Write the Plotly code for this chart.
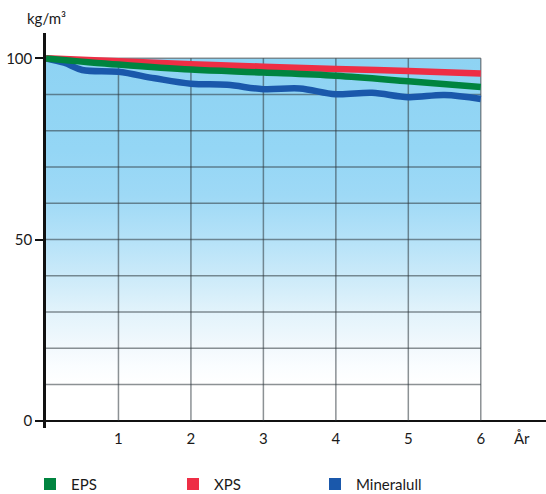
import base64
import plotly.graph_objects as go

# ---- data ----
years_lin = [0, 1, 2, 3, 4, 5, 6]
eps_vals = [100, 98.3, 96.9, 96.1, 95.2, 93.7, 92.1]
xps_vals = [100, 99.2, 98.4, 97.7, 97.1, 96.5, 95.8]
years_mw = [0, 0.25, 0.5, 1, 1.5, 2, 2.5, 3, 3.5, 4, 4.5, 5, 5.5, 6]
mw_vals = [100, 98.8, 96.8, 96.3, 94.5, 93.0, 92.7, 91.5, 91.7, 90.1, 90.5, 89.3, 89.9, 88.8]
series_names = ["EPS", "XPS", "Mineralull"]
x_ticks = [1, 2, 3, 4, 5, 6]
y_ticks = [0, 50, 100]

C_EPS = "#00843f"
C_XPS = "#ee2e45"
C_MW = "#1a58ab"
colors = [C_EPS, C_XPS, C_MW]
FONT = "Lato"

fig = go.Figure()

# gradient background (decoration) as an SVG image
stops = [(100, "#8ed3f3"), (75, "#94d6f5"), (62, "#9ed9f6"), (50, "#b5e2f8"), (40, "#cbeaf9"),
         (30, "#e2f3fb"), (20, "#f3f9fd"), (15, "#fafdff"), (10, "#ffffff"), (0, "#ffffff")]
stop_xml = "".join('<stop offset="%.3f" stop-color="%s"/>' % ((100 - v) / 100, c) for v, c in stops)
svg = ('<svg xmlns="http://www.w3.org/2000/svg" width="100" height="100" preserveAspectRatio="none">'
       '<defs><linearGradient id="g" x1="0" y1="0" x2="0" y2="1">' + stop_xml + '</linearGradient></defs>'
       '<rect width="100" height="100" fill="url(#g)"/></svg>')
img_src = "data:image/svg+xml;base64," + base64.b64encode(svg.encode()).decode()

shapes = []
grid_c = "rgba(45,55,60,0.55)"
for v in range(10, 101, 10):
    shapes.append(dict(type="line", xref="x", yref="y", x0=0, x1=6, y0=v, y1=v,
                       line=dict(color=grid_c, width=1.5), layer="between"))
for v in x_ticks:
    shapes.append(dict(type="line", xref="x", yref="y", x0=v, x1=v, y0=0, y1=100,
                       line=dict(color=grid_c, width=1.5), layer="between"))

fig.add_trace(go.Scatter(x=years_mw, y=mw_vals, mode="lines", line=dict(color=C_MW, width=6.5, shape="spline", smoothing=1.0),
                         name="Mineralull", showlegend=False, cliponaxis=False))
fig.add_trace(go.Scatter(x=years_lin, y=xps_vals, mode="lines", line=dict(color=C_XPS, width=6.5, shape="spline"),
                         name="XPS", showlegend=False, cliponaxis=False))
fig.add_trace(go.Scatter(x=years_lin, y=eps_vals, mode="lines", line=dict(color=C_EPS, width=6.5, shape="spline"),
                         name="EPS", showlegend=False, cliponaxis=False))

# manual legend (pixel positions converted to paper coords)
PL, PW, PB, PH = 46, 500, 428, 395
def px(x):
    return (x - PL) / PW
def py(y):
    return (PB - y) / PH

annotations = [
    dict(text="kg/m³", xref="paper", yref="paper", x=px(25), y=py(18), xanchor="left", yanchor="middle",
         showarrow=False, font=dict(size=15)),
    dict(text="År", xref="x", yref="paper", x=6.57, y=py(438), xanchor="center", yanchor="middle",
         showarrow=False, font=dict(size=15)),
]
LEG_Y = 484
leg_x = [44, 187, 329]
for name, c, lx in zip(series_names, colors, leg_x):
    shapes.append(dict(type="rect", xref="paper", yref="paper", x0=px(lx), x1=px(lx + 12),
                       y0=py(LEG_Y + 6), y1=py(LEG_Y - 6), fillcolor=c, line=dict(width=0), layer="above"))
    annotations.append(dict(text=name, xref="paper", yref="paper", x=px(lx + 26), y=py(LEG_Y),
                            xanchor="left", yanchor="middle", showarrow=False, borderpad=0,
                            font=dict(size=15)))

fig.update_layout(
    width=546, height=494,
    margin=dict(l=46, r=0, t=33, b=66, autoexpand=False),
    plot_bgcolor="white", paper_bgcolor="white",
    font=dict(family=FONT, size=15, color="#1a1a1a"),
    shapes=shapes,
    images=[dict(source=img_src, xref="x", yref="y", x=0, y=100, sizex=6, sizey=100,
                 sizing="stretch", xanchor="left", yanchor="top", layer="below")],
    showlegend=False,
    xaxis=dict(range=[0, 6.9], tickvals=x_ticks, ticktext=[str(v) for v in x_ticks], automargin=False,
               showgrid=False, zeroline=False, showline=False, ticks="", ticklabelstandoff=0),
    yaxis=dict(range=[-2.0, 107], tickvals=y_ticks, showgrid=False, automargin=False,
               zeroline=True, zerolinecolor="#111", zerolinewidth=2,
               showline=True, linecolor="#111", linewidth=2.5,
               ticks="outside", ticklen=8, tickwidth=2, tickcolor="#111"),
    annotations=annotations,
)

fig.write_html("out.html", config={"displayModeBar": False},
               post_script="document.body.style.margin='0';document.body.style.padding='0';")
